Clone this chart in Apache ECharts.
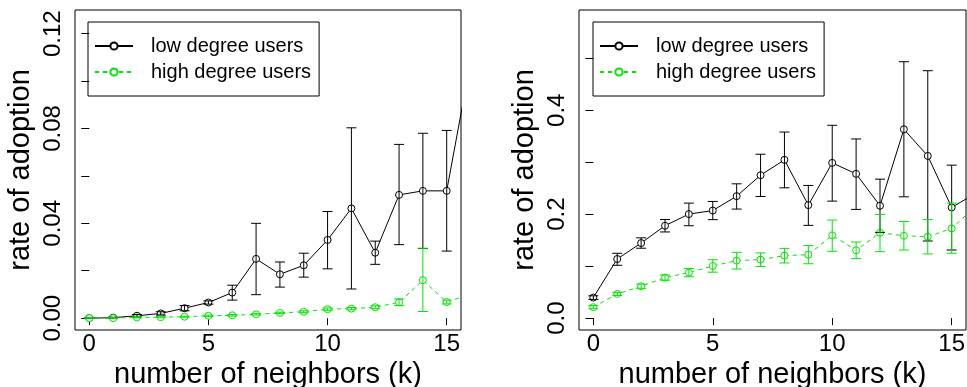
<!DOCTYPE html>
<html>
<head>
<meta charset="utf-8">
<script src="https://cdn.jsdelivr.net/npm/echarts@6/dist/echarts.min.js"></script>
<style>
  html, body { margin: 0; padding: 0; background: #fff; }
  #main { width: 967px; height: 387px; }
</style>
</head>
<body>
<div id="main"></div>
<script>
// number of neighbors
var k = [0, 1, 2, 3, 4, 5, 6, 7, 8, 9, 10, 11, 12, 13, 14, 15, 16];

// left panel
var lowL    = [0.0, 0.0002, 0.001, 0.002, 0.0042, 0.0066, 0.0108, 0.025, 0.0185, 0.0223, 0.033, 0.0463, 0.0276, 0.052, 0.0537, 0.0537, 0.108];
var lowLoL  = [0.0, 0.0, 0.0005, 0.0013, 0.0031, 0.0059, 0.0076, 0.0099, 0.0131, 0.0173, 0.0208, 0.0123, 0.0227, 0.031, 0.0294, 0.0283, 0.08];
var lowHiL  = [0.0003, 0.0004, 0.0015, 0.0027, 0.0053, 0.0073, 0.0139, 0.040, 0.0237, 0.0274, 0.045, 0.0803, 0.0325, 0.0733, 0.078, 0.0792, 0.136];
var highL   = [0.0, 0.0, 0.0003, 0.0004, 0.0006, 0.001, 0.0012, 0.0016, 0.0022, 0.0027, 0.0038, 0.004, 0.0046, 0.0067, 0.016, 0.0068, 0.0101];
var highLoL = [0.0, 0.0, 0.0001, 0.0002, 0.0004, 0.0007, 0.0009, 0.0013, 0.0019, 0.0023, 0.0033, 0.0035, 0.004, 0.0053, 0.0028, 0.006, 0.009];
var highHiL = [0.0002, 0.0002, 0.0005, 0.0006, 0.0008, 0.0013, 0.0015, 0.0019, 0.0025, 0.0031, 0.0043, 0.0045, 0.0052, 0.0081, 0.0295, 0.0076, 0.0111];

// right panel
var lowR    = [0.0396, 0.1138, 0.1445, 0.1778, 0.2002, 0.207, 0.2347, 0.275, 0.3045, 0.2175, 0.2987, 0.2776, 0.2162, 0.3633, 0.3121, 0.213, 0.24];
var lowLoR  = [0.036, 0.1017, 0.1345, 0.1658, 0.1778, 0.1895, 0.2098, 0.234, 0.2507, 0.1785, 0.2251, 0.2092, 0.165, 0.2334, 0.1484, 0.1311, 0.18];
var lowHiR  = [0.043, 0.1248, 0.1545, 0.1898, 0.2213, 0.2245, 0.2584, 0.3153, 0.358, 0.2553, 0.371, 0.3447, 0.2674, 0.4933, 0.476, 0.2943, 0.30];
var highR   = [0.0211, 0.0466, 0.0614, 0.078, 0.0876, 0.1004, 0.1106, 0.1125, 0.1202, 0.1221, 0.1593, 0.1305, 0.1643, 0.1585, 0.1566, 0.1727, 0.215];
var highLoR = [0.018, 0.0436, 0.0574, 0.073, 0.0796, 0.0884, 0.0946, 0.0995, 0.1062, 0.1046, 0.1286, 0.1145, 0.1278, 0.131, 0.1236, 0.1248, 0.18];
var highHiR = [0.0241, 0.0496, 0.0654, 0.083, 0.0956, 0.1124, 0.1266, 0.1255, 0.1342, 0.1396, 0.1887, 0.1465, 0.1996, 0.186, 0.1896, 0.2213, 0.25];

// axis ticks
var xTicks = [0, 5, 10, 15];
var yTicksL = [0, 0.02, 0.04, 0.06, 0.08, 0.10, 0.12];
var yLabelsL = [0, 0.04, 0.08, 0.12];
var yTicksR = [0, 0.1, 0.2, 0.3, 0.4, 0.5];
var yLabelsR = [0, 0.2, 0.4];

var BLACK = '#000000';
var GREEN = '#00e600';
var FONT = 'Liberation Sans, Arial, sans-serif';

function pairs(xs, ys) {
    return xs.map(function (x, i) { return [x, ys[i]]; });
}
function triples(xs, lo, hi) {
    return xs.map(function (x, i) { return [x, lo[i], hi[i]]; });
}

function errorBars(color) {
    return function (params, api) {
        var x = api.value(0);
        var a = api.coord([x, api.value(1)]);
        var b = api.coord([x, api.value(2)]);
        var w = 5;
        var st = { stroke: color, lineWidth: 1 };
        return {
            type: 'group',
            children: [
                { type: 'line', shape: { x1: a[0], y1: a[1], x2: b[0], y2: b[1] }, style: st },
                { type: 'line', shape: { x1: a[0] - w, y1: a[1], x2: a[0] + w, y2: a[1] }, style: st },
                { type: 'line', shape: { x1: b[0] - w, y1: b[1], x2: b[0] + w, y2: b[1] }, style: st }
            ]
        };
    };
}

function xAxis(idx) {
    return {
        type: 'value', gridIndex: idx, min: -0.6, max: 15.6,
        name: 'number of neighbors (k)', nameLocation: 'middle', nameGap: 19,
        nameTextStyle: { fontSize: 29, color: '#000', fontFamily: FONT },
        axisLine: { show: false },
        splitLine: { show: false },
        axisTick: { show: true, length: 7, customValues: xTicks, lineStyle: { color: '#000' } },
        axisLabel: { customValues: xTicks, fontSize: 24, color: '#000', margin: 2, fontFamily: FONT }
    };
}

function yAxis(idx, min, max, ticks, labels, digits, gap) {
    return {
        type: 'value', gridIndex: idx, min: min, max: max,
        name: 'rate of adoption', nameLocation: 'middle', nameGap: gap, nameRotate: 90,
        nameTextStyle: { fontSize: 29, color: '#000', fontFamily: FONT },
        axisLine: { show: false },
        splitLine: { show: false },
        axisTick: { show: true, length: 8, customValues: ticks, lineStyle: { color: '#000' } },
        axisLabel: {
            customValues: labels, rotate: 90, fontSize: 24, color: '#000', margin: 10, fontFamily: FONT,
            formatter: function (v) { return v.toFixed(digits); }
        }
    };
}

function lineSeries(name, idx, data, color, dashed) {
    return {
        name: name, type: 'line', xAxisIndex: idx, yAxisIndex: idx,
        data: data, clip: true, symbol: 'circle', symbolSize: 7,
        showAllSymbol: true, animation: false,
        itemStyle: { color: '#fff', borderColor: color, borderWidth: 1 },
        lineStyle: { color: color, width: 1, type: dashed ? [4, 4] : 'solid' },
        z: 3
    };
}

function errSeries(idx, data, color) {
    return {
        type: 'custom', xAxisIndex: idx, yAxisIndex: idx,
        data: data, clip: true, animation: false, silent: true,
        encode: { x: 0, y: [1, 2] },
        renderItem: errorBars(color), z: 4
    };
}

function legend(left, top) {
    return {
        left: left, top: top, orient: 'vertical',
        borderColor: '#000', borderWidth: 1, padding: [11, 8, 11, 6],
        itemWidth: 38, itemHeight: 9, itemGap: 0,
        selectedMode: false,
        textStyle: { fontSize: 20, color: '#000', lineHeight: 26, padding: [0, 0, 0, 13], fontFamily: FONT },
        data: ['low degree users', 'high degree users']
    };
}

var chart = echarts.init(document.getElementById('main'));
var option = {
    animation: false,
    textStyle: { fontFamily: FONT },
    grid: [
        { left: 75, top: 10, width: 386, height: 320, show: true, borderColor: '#000', borderWidth: 1, backgroundColor: 'transparent', containLabel: false, outerBoundsMode: 'none' },
        { left: 579, top: 10, width: 387, height: 320, show: true, borderColor: '#000', borderWidth: 1, backgroundColor: 'transparent', containLabel: false, outerBoundsMode: 'none' }
    ],
    legend: [legend(88, 22), legend(593, 22)],
    xAxis: [xAxis(0), xAxis(1)],
    yAxis: [
        yAxis(0, -0.005, 0.13, yTicksL, yLabelsL, 2, 40),
        yAxis(1, -0.0228, 0.5928, yTicksR, yLabelsR, 1, 40)
    ],
    series: [
        errSeries(0, triples(k, lowLoL, lowHiL), BLACK),
        errSeries(0, triples(k, highLoL, highHiL), GREEN),
        lineSeries('low degree users', 0, pairs(k, lowL), BLACK, false),
        lineSeries('high degree users', 0, pairs(k, highL), GREEN, true),
        errSeries(1, triples(k, lowLoR, lowHiR), BLACK),
        errSeries(1, triples(k, highLoR, highHiR), GREEN),
        lineSeries('low degree users', 1, pairs(k, lowR), BLACK, false),
        lineSeries('high degree users', 1, pairs(k, highR), GREEN, true)
    ]
};
chart.setOption(option);
window.addEventListener('resize', function () {
    chart.resize();
});
</script>
</body>
</html>
